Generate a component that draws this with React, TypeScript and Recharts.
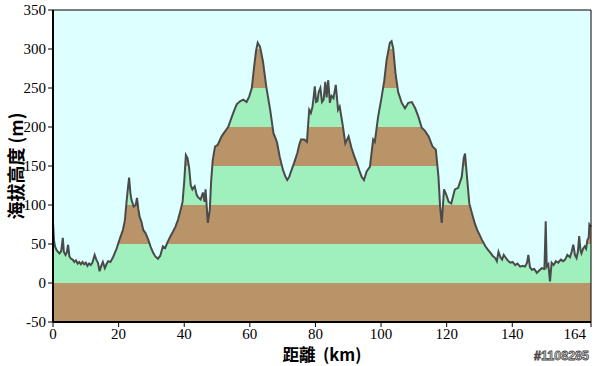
import React from 'react'
import {
  ComposedChart, Area, Line, XAxis, YAxis, ReferenceLine, Label,
} from 'recharts'

// distance along the route (km) and elevation (m)
const KM = [
  0, 0.3, 0.6, 1.0, 1.5, 2.0, 2.5, 3.0, 3.3, 3.8, 4.2, 4.6, 5.0, 5.5, 6.0, 6.5, 7.0, 7.5, 8.0, 8.5,
  9.0, 9.5, 10.0, 10.5, 11.0, 11.5, 12.0, 12.7, 13.2, 13.7, 14.2, 14.7, 15.2, 15.8, 16.3, 16.8, 17.5, 18.3, 19.3, 20.3,
  21.3, 21.9, 22.4, 22.8, 23.2, 23.6, 23.9, 24.6, 25.2, 25.6, 26.0, 26.4, 27.0, 27.5, 28.2, 29.0, 29.8, 30.5, 31.2, 32.0,
  32.7, 33.5, 34.2, 35.0, 35.8, 36.6, 37.3, 38.1, 38.8, 39.5, 40.0, 40.5, 41.0, 41.5, 42.0, 42.5, 43.2, 43.8, 44.2, 45.0,
  45.7, 46.2, 46.5, 47.2, 47.8, 48.2, 48.7, 49.4, 50.2, 51.4, 52.4, 53.4, 54.5, 55.3, 56.0, 57.0, 58.0, 59.0, 59.8, 60.6,
  61.3, 61.9, 62.4, 62.8, 63.1, 64.0, 65.0, 65.6, 66.2, 67.2, 67.8, 68.3, 69.1, 70.1, 70.8, 71.4, 72.0, 72.4, 73.5, 74.5,
  75.1, 75.6, 76.6, 77.4, 78.1, 78.6, 79.1, 79.5, 79.8, 80.2, 80.6, 81.0, 81.5, 82.0, 82.5, 83.0, 83.4, 83.9, 84.4, 84.9,
  85.5, 86.2, 86.9, 87.4, 88.4, 89.1, 90.1, 91.0, 91.8, 92.6, 93.4, 94.1, 94.8, 95.6, 96.6, 97.6, 98.1, 99.1, 100.2, 101.0,
  101.7, 102.7, 103.2, 103.7, 104.4, 105.2, 106.3, 107.3, 108.3, 109.4, 110.4, 111.4, 112.4, 113.4, 114.5, 115.7, 116.7, 117.5, 118.0, 118.5,
  119.2, 119.9, 120.6, 121.4, 122.0, 122.5, 123.5, 124.6, 125.2, 125.6, 126.2, 126.9, 128.0, 128.6, 129.3, 130.0, 130.8, 131.8, 132.5, 133.3,
  134.0, 134.8, 135.3, 135.8, 136.4, 136.9, 137.4, 137.9, 138.6, 139.4, 140.1, 140.9, 141.6, 142.4, 143.2, 143.9, 144.5, 144.9, 145.4, 146.0,
  146.7, 147.5, 148.2, 149.0, 149.8, 150.2, 150.5, 151.0, 151.5, 152.0, 152.6, 153.3, 154.0, 154.8, 155.5, 156.1, 156.8, 157.6, 158.1, 158.6,
  159.1, 159.6, 160.0, 160.4, 160.8, 161.1, 161.6, 162.1, 162.5, 162.9, 163.3, 163.5, 164.0,
]

const ELEV = [
  78, 55, 47, 43, 40, 38, 41, 58, 40, 36, 39, 49, 34, 31, 30, 27, 29, 25, 27, 24,
  27, 24, 26, 22, 25, 23, 26, 36, 30, 26, 15, 22, 27, 19, 24, 28, 27, 33, 43, 56,
  68, 80, 103, 120, 135, 115, 107, 98, 100, 109, 95, 85, 78, 68, 64, 56, 46, 39, 34, 31,
  35, 47, 45, 53, 60, 66, 72, 81, 92, 104, 130, 164, 160, 148, 125, 120, 124, 113, 110, 107,
  116, 104, 120, 77, 94, 130, 158, 175, 177, 188, 194, 200, 213, 222, 229, 233, 235, 232, 239, 250,
  277, 298, 308, 305, 303, 284, 252, 237, 222, 192, 186, 180, 162, 145, 137, 132, 136, 141, 154, 167,
  178, 184, 184, 181, 222, 218, 226, 240, 252, 232, 233, 245, 250, 232, 235, 258, 238, 260, 231, 240,
  237, 254, 222, 226, 200, 179, 188, 173, 163, 154, 144, 136, 132, 143, 149, 184, 181, 213, 239, 260,
  286, 308, 310, 301, 269, 245, 231, 224, 231, 232, 224, 213, 199, 195, 188, 175, 171, 136, 98, 77,
  120, 113, 104, 102, 112, 120, 122, 136, 160, 166, 136, 102, 85, 76, 68, 62, 55, 47, 43, 39,
  35, 32, 28, 40, 33, 30, 36, 33, 29, 26, 27, 23, 25, 21, 22, 21, 26, 36, 20, 17,
  18, 13, 16, 19, 18, 79, 21, 24, 2, 26, 23, 28, 26, 30, 28, 30, 36, 33, 40, 49,
  36, 32, 40, 60, 42, 38, 44, 47, 44, 55, 58, 75, 72,
]

const X_TICKS = [0, 20, 40, 60, 80, 100, 120, 140, 164]
const Y_TICKS = [-50, 0, 50, 100, 150, 200, 250, 300, 350]
const BAND_EDGES = [-50, 0, 50, 100, 150, 200, 250, 300, 350]

const BROWN = '#b89468'
const GREEN = '#a0f0be'
const SKY = '#ddffff'

const data = KM.map((km, i) => ({ km, elev: ELEV[i] }))

const SERIF = '"Liberation Serif", "DejaVu Serif", serif'
const CJK = '"Noto Sans CJK TC", "Noto Sans CJK SC", sans-serif'

function XTick(props: any) {
  const { x, y, payload } = props
  const last = payload.value === 164
  return (
    <text
      x={last ? x + 3 : x}
      y={y}
      dy="0.71em"
      textAnchor={last ? 'end' : 'middle'}
      fill="#000"
      style={{ fontFamily: SERIF, fontSize: 15 }}
    >
      {payload.value}
    </text>
  )
}

function YTick(props: any) {
  const { x, y, payload } = props
  return (
    <text
      x={x}
      y={y}
      dy="0.355em"
      textAnchor="end"
      fill="#000"
      style={{ fontFamily: SERIF, fontSize: 15 }}
    >
      {payload.value}
    </text>
  )
}

function YTitle(props: any) {
  const vb = props.viewBox
  const cx = vb.x + 15
  const cy = vb.y + vb.height / 2
  return (
    <text
      x={cx}
      y={cy}
      transform={`rotate(-90 ${cx} ${cy})`}
      textAnchor="middle"
      dominantBaseline="central"
      fill="#000"
      style={{ fontFamily: CJK, fontWeight: 700, fontSize: 18 }}
    >
      海拔高度 (m)
    </text>
  )
}

function XTitle(props: any) {
  const vb = props.viewBox
  return (
    <g>
      <text
        x={vb.x + vb.width / 2}
        y={vb.y + 39}
        textAnchor="middle"
        fill="#000"
        style={{ fontFamily: CJK, fontWeight: 700, fontSize: 16.5, whiteSpace: 'pre' }}
      >
        {'距離  (km)'}
      </text>
      <text
        x={vb.x + vb.width - 2}
        y={vb.y + 38}
        textAnchor="end"
        fill="#eeeeee"
        stroke="#444"
        strokeWidth={0.8}
        style={{ fontFamily: '"Liberation Sans", sans-serif', fontWeight: 700, fontSize: 12.5 }}
      >
        #1108285
      </text>
    </g>
  )
}

export default function App() {
  return (
    <div style={{ position: 'absolute', left: 0, top: 0, width: 595, height: 366, background: '#fff' }}>
      <ComposedChart
        width={595}
        height={366}
        data={data}
        margin={{ top: 10, right: 4, bottom: 0, left: 0 }}
      >
        <XAxis
          dataKey="km"
          type="number"
          domain={[0, 164]}
          ticks={X_TICKS}
          height={44}
          tickSize={5}
          tickMargin={1}
          axisLine={{ stroke: '#000', strokeWidth: 2 }}
          tickLine={{ stroke: '#000' }}
          tick={<XTick />}
        >
          <Label content={<XTitle />} />
        </XAxis>
        <YAxis
          type="number"
          domain={[-50, 350]}
          ticks={Y_TICKS}
          width={53}
          tickSize={5}
          axisLine={{ stroke: '#000', strokeWidth: 2 }}
          tickLine={{ stroke: '#000' }}
          tick={<YTick />}
        >
          <Label content={<YTitle />} />
        </YAxis>
        {BAND_EDGES.slice(0, -1).map((lo, i) => (
          <Area
            key={lo}
            type="linear"
            dataKey={() => [lo, BAND_EDGES[i + 1]]}
            fill={i % 2 === 0 ? BROWN : GREEN}
            fillOpacity={1}
            stroke="none"
            isAnimationActive={false}
          />
        ))}
        <Area
          type="linear"
          dataKey={(d: any) => [d.elev, 350]}
          fill={SKY}
          fillOpacity={1}
          stroke="none"
          isAnimationActive={false}
        />
        <Line
          type="linear"
          dataKey="elev"
          stroke="#4a4a4a"
          strokeWidth={2}
          dot={false}
          isAnimationActive={false}
        />
        <ReferenceLine y={350} stroke="#000" strokeWidth={1} />
        <ReferenceLine x={164} stroke="#000" strokeWidth={1} />
      </ComposedChart>
    </div>
  )
}
